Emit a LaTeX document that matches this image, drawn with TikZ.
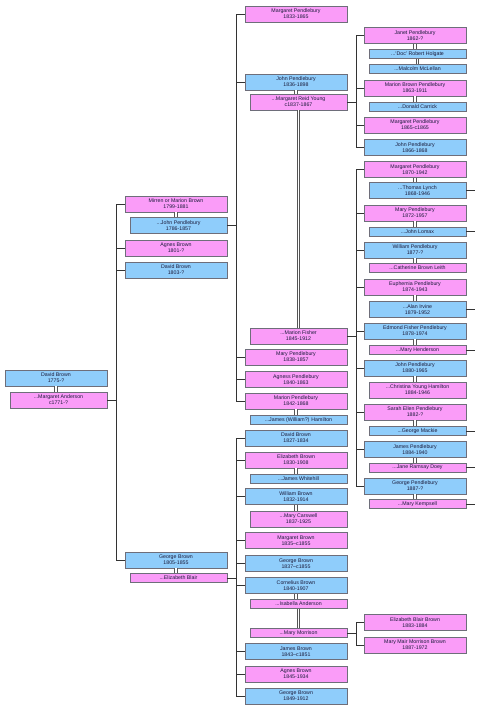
\documentclass[tikz,border=0pt]{standalone}
\usepackage{fontspec}
\setmainfont{Liberation Sans}
\definecolor{pk}{HTML}{FA9CF8}
\definecolor{bl}{HTML}{8FCDFB}
\definecolor{bd}{HTML}{6E6E7A}
\definecolor{ln}{HTML}{333333}
\definecolor{mr}{HTML}{555555}
\definecolor{txt}{HTML}{1A1A3A}
\begin{document}
\begin{tikzpicture}[x=1pt,y=-1pt,
 person/.style={draw=bd, line width=0.6pt, inner sep=0pt, align=center, font=\fontsize{5.25}{6.2}\selectfont, text=txt},
 mal/.style={person, fill=bl},
 fem/.style={person, fill=pk},
 mw/.style={minimum width=102pt},
 sw/.style={minimum width=97pt},
 two/.style={minimum height=16pt},
 one/.style={minimum height=9pt},
 conn/.style={draw=ln, line width=0.75pt},
 marr/.style={draw=mr, double=white, double distance=1.5pt, line width=0.8pt}]
\useasboundingbox (0,0) rectangle (488,710);
\fill[white] (0,0) rectangle (488,710);

% generation 0
\node[mal,mw,two] (db1775) at (56,378) {David Brown\\1775-?};
\node[fem,sw,two] (ma) at (58.5,400) {...Margaret Anderson\\c1771-?};

% generation 1
\node[fem,mw,two] (mirren) at (176,204) {Mirren or Marion Brown\\1799-1881};
\node[mal,sw,two] (jp1786) at (178.5,225.5) {...John Pendlebury\\1786-1857};
\node[fem,mw,two] (agnes1801) at (176,248) {Agnes Brown\\1801-?};
\node[mal,mw,two] (david1803) at (176,270) {David Brown\\1803-?};
\node[mal,mw,two] (george1805) at (176,560) {George Brown\\1805-1855};
\node[fem,sw,one] (eblair) at (178.5,578) {...Elizabeth Blair};

% generation 2
\node[fem,mw,two] (mp1833) at (296,14) {Margaret Pendlebury\\1833-1865};
\node[mal,mw,two] (jp1836) at (296,82) {John Pendlebury\\1836-1898};
\node[fem,sw,two] (mry) at (298.5,102) {...Margaret Reid Young\\c1837-1867};
\node[fem,sw,two] (mfisher) at (298.5,336) {...Marion Fisher\\1845-1912};
\node[fem,mw,two] (mary1838) at (296,357) {Mary Pendlebury\\1838-1857};
\node[fem,mw,two] (agness1840) at (296,379.5) {Agness Pendlebury\\1840-1863};
\node[fem,mw,two] (marion1842) at (296,401) {Marion Pendlebury\\1842-1868};
\node[mal,sw,one] (jhamilton) at (298.5,420) {...James (William?) Hamilton};
\node[mal,mw,two] (david1827) at (296,438) {David Brown\\1827-1834};
\node[fem,mw,two] (eliz1830) at (296,460) {Elizabeth Brown\\1830-1908};
\node[mal,sw,one] (jwhitehill) at (298.5,478.5) {...James Whitehill};
\node[mal,mw,two] (will1832) at (296,496.5) {William Brown\\1832-1914};
\node[fem,sw,two] (mcarswell) at (298.5,519) {...Mary Carswell\\1837-1925};
\node[fem,mw,two] (marg1835) at (296,540.5) {Margaret Brown\\1835–c1855};
\node[mal,mw,two] (geo1837) at (296,563.5) {George Brown\\1837–c1855};
\node[mal,mw,two] (corn1840) at (296,585.5) {Cornelius Brown\\1840-1907};
\node[fem,sw,one] (ianderson) at (298.5,604) {...Isabella Anderson};
\node[fem,sw,one] (mmorrison) at (298.5,633) {...Mary Morrison};
\node[mal,mw,two] (james1843) at (296,651.5) {James Brown\\1843–c1851};
\node[fem,mw,two] (agnes1845) at (296,674) {Agnes Brown\\1845-1934};
\node[mal,mw,two] (geo1849) at (296,696) {George Brown\\1849-1912};

% generation 3
\node[fem,mw,two] (janet) at (415,35.5) {Janet Pendlebury\\1862-?};
\node[mal,sw,one] (holgate) at (417.5,54) {...‘Doc’ Robert Holgate};
\node[mal,sw,one] (mclellan) at (417.5,69) {...Malcolm McLellan};
\node[fem,mw,two] (marionbp) at (415,88) {Marion Brown Pendlebury\\1863-1911};
\node[mal,sw,one] (carrick) at (417.5,106.5) {...Donald Carrick};
\node[fem,mw,two] (marg1865) at (415,125) {Margaret Pendlebury\\1865-c1865};
\node[mal,mw,two] (john1866) at (415,147.5) {John Pendlebury\\1866-1868};

\node[fem,mw,two] (marg1870) at (415,169.5) {Margaret Pendlebury\\1870-1942};
\node[mal,sw,two] (lynch) at (417.5,190.5) {...Thomas Lynch\\1868-1946};
\node[fem,mw,two] (mary1872) at (415,213) {Mary Pendlebury\\1872-1957};
\node[mal,sw,one] (lomax) at (417.5,231.5) {...John Lomax};
\node[mal,mw,two] (will1877) at (415,250) {William Pendlebury\\1877-?};
\node[fem,sw,one] (leith) at (417.5,268) {...Catherine Brown Leith};
\node[fem,mw,two] (euph) at (415,287) {Euphemia Pendlebury\\1874-1943};
\node[mal,sw,two] (irvine) at (417.5,309.5) {...Alan Irvine\\1879-1952};
\node[mal,mw,two] (edmond) at (415,331) {Edmond Fisher Pendlebury\\1878-1974};
\node[fem,sw,one] (henderson) at (417.5,350) {...Mary Henderson};
\node[mal,mw,two] (john1880) at (415,368) {John Pendlebury\\1880-1965};
\node[fem,sw,two] (christina) at (417.5,390) {...Christina Young Hamilton\\1884-1946};
\node[fem,mw,two] (sarah) at (415,412) {Sarah Ellen Pendlebury\\1882-?};
\node[mal,sw,one] (mackie) at (417.5,431) {...George Mackie};
\node[mal,mw,two] (james1884) at (415,449.5) {James Pendlebury\\1884-1940};
\node[fem,sw,one] (doey) at (417.5,467.5) {...Jane Ramsay Doey};
\node[mal,mw,two] (geo1887) at (415,486) {George Pendlebury\\1887-?};
\node[fem,sw,one] (kempsell) at (417.5,504) {...Mary Kempsell};

\node[fem,mw,two] (ebb) at (415,622.5) {Elizabeth Blair Brown\\1883-1884};
\node[fem,mw,two] (mmmb) at (415,645) {Mary Mair Morrison Brown\\1887-1972};

% marriages
\foreach \a/\b in {db1775/ma, mirren/jp1786, george1805/eblair, jp1836/mry, mry/mfisher,
  marion1842/jhamilton, eliz1830/jwhitehill, will1832/mcarswell, corn1840/ianderson,
  ianderson/mmorrison, janet/holgate, holgate/mclellan, marionbp/carrick, marg1870/lynch,
  mary1872/lomax, will1877/leith, euph/irvine, edmond/henderson, john1880/christina,
  sarah/mackie, james1884/doey, geo1887/kempsell}
  \draw[marr] (\a.south) -- (\a.south |- \b.north);

% child connectors
\foreach \c in {mirren, agnes1801, david1803, george1805}
  \draw[conn] (ma.east) -- ++(9,0) |- (\c.west);
\foreach \c in {mp1833, jp1836, mary1838, agness1840, marion1842}
  \draw[conn] (jp1786.east) -- ++(9,0) |- (\c.west);
\foreach \c in {david1827, eliz1830, will1832, marg1835, geo1837, corn1840, james1843, agnes1845, geo1849}
  \draw[conn] (eblair.east) -- ++(9,0) |- (\c.west);
\foreach \c in {janet, marionbp, marg1865, john1866}
  \draw[conn] (mry.east) -- ++(9,0) |- (\c.west);
\foreach \c in {marg1870, mary1872, will1877, euph, edmond, john1880, sarah, james1884, geo1887}
  \draw[conn] (mfisher.east) -- ++(9,0) |- (\c.west);
\foreach \c in {ebb, mmmb}
  \draw[conn] (mmorrison.east) -- ++(9,0) |- (\c.west);

% stubs
\foreach \s in {lynch, lomax, irvine, henderson, mackie, doey, kempsell}
  \draw[conn] (\s.east) -- ++(9,0);
\end{tikzpicture}
\end{document}
